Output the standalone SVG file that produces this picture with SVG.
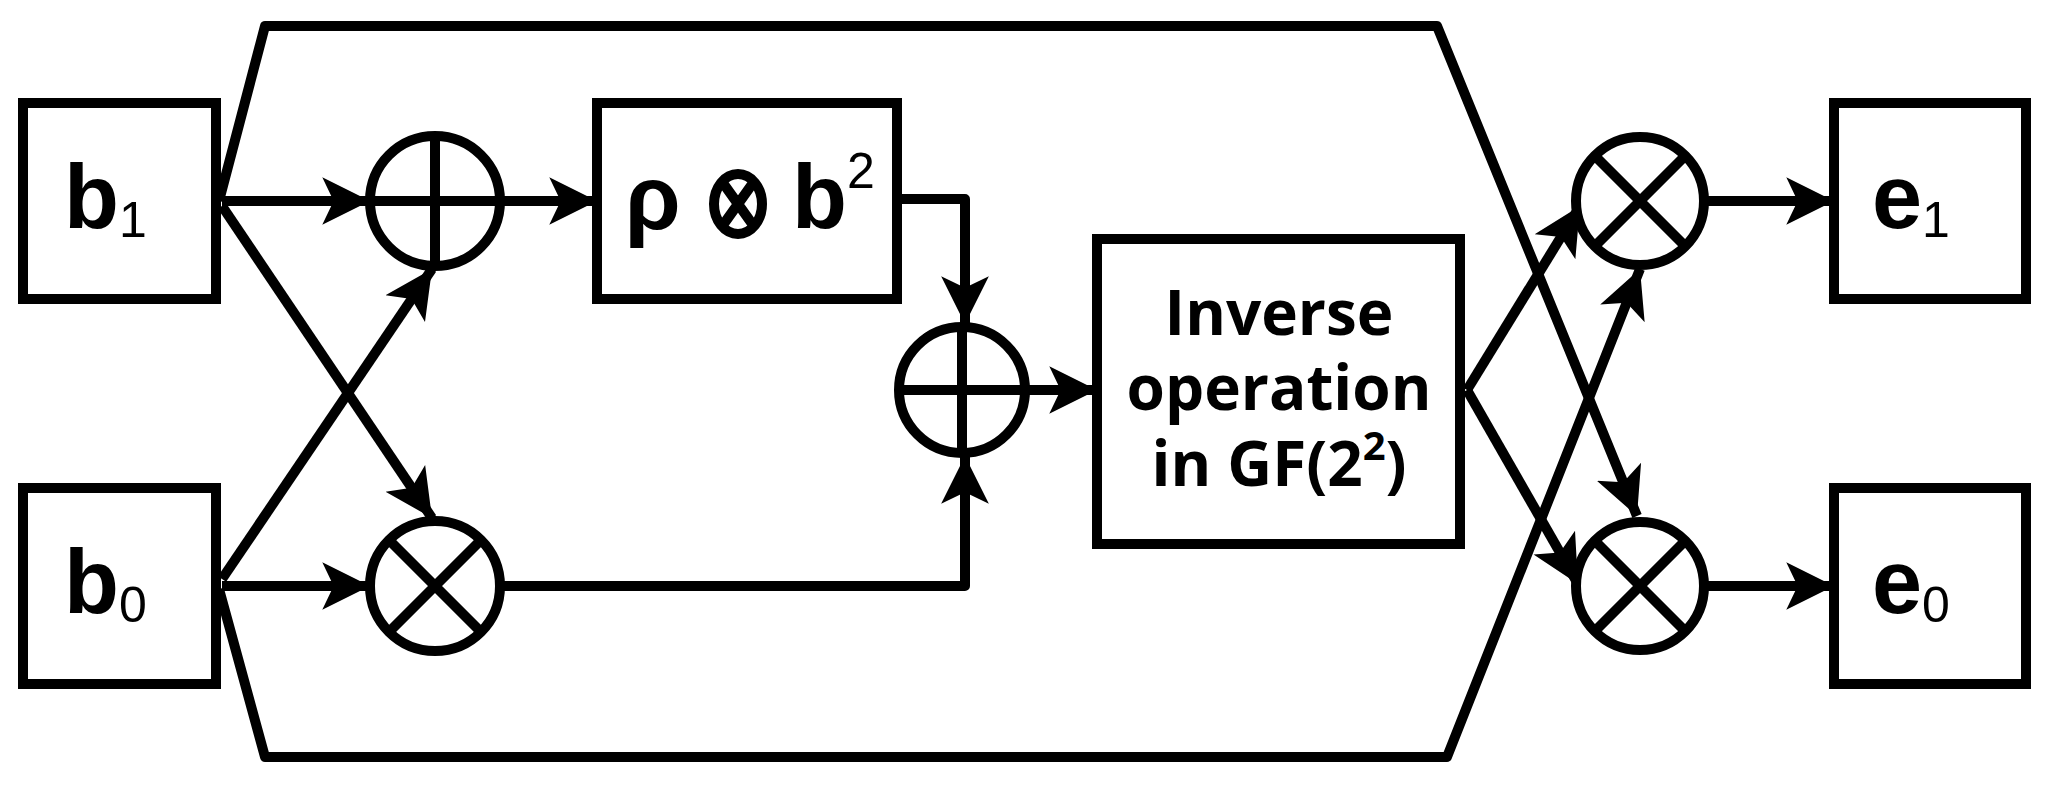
<svg xmlns="http://www.w3.org/2000/svg" width="2051" height="789" viewBox="0 0 2051 789">
<style>
.s{fill:none;stroke:#000;stroke-width:10;stroke-linejoin:round}
.c{fill:#fff;stroke:#000;stroke-width:10}
.t{font-family:"Liberation Sans",Arial,sans-serif;font-weight:bold;fill:#000}
.u{font-size:50px;font-weight:normal}
.o{font-family:"Open Sans","Noto Sans",sans-serif;font-weight:bold;fill:#000;font-size:62px;text-anchor:middle}
</style>
<defs>
<marker id="a" markerUnits="userSpaceOnUse" markerWidth="50" markerHeight="50" refX="42" refY="21" orient="auto" viewBox="0 0 44 42">
<path d="M42,21 L0,0 L10,21 L0,42 z" fill="#000"/>
</marker>
</defs>
<rect width="2051" height="789" fill="#fff"/>
<g id="connectors" class="s">
<polyline points="219,201 265,26 1437,26 1637,516" marker-end="url(#a)"/>
<polyline points="219,589 265,757 1447,757 1640,269" marker-end="url(#a)"/>
<line x1="222" y1="201" x2="370" y2="201" marker-end="url(#a)"/>
<line x1="222" y1="586" x2="370" y2="586" marker-end="url(#a)"/>
<line x1="222" y1="206" x2="432" y2="518" marker-end="url(#a)"/>
<line x1="222" y1="579" x2="432" y2="269" marker-end="url(#a)"/>
<line x1="500" y1="201" x2="597" y2="201" marker-end="url(#a)"/>
<polyline points="897,199 965,199 965,324" marker-end="url(#a)"/>
<polyline points="504,586 965,586 965,456" marker-end="url(#a)"/>
<line x1="1026" y1="390" x2="1097" y2="390" marker-end="url(#a)"/>
<line x1="1467" y1="390" x2="1580" y2="206" marker-end="url(#a)"/>
<line x1="1467" y1="390" x2="1578" y2="584" marker-end="url(#a)"/>
<line x1="1706" y1="201" x2="1834" y2="201" marker-end="url(#a)"/>
<line x1="1706" y1="586" x2="1834" y2="586" marker-end="url(#a)"/>
</g>
<g id="b1"><rect class="c" x="23" y="103" width="193" height="196"/><text class="t" x="64" y="228" font-size="90">b<tspan class="u" dy="9">1</tspan></text></g>
<g id="b0"><rect class="c" x="23" y="488" width="193" height="196"/><text class="t" x="64" y="613" font-size="90">b<tspan class="u" dy="9">0</tspan></text></g>
<g id="xor1"><circle class="c" cx="435" cy="201" r="65"/><path class="s" d="M370,201H500M435,136V266"/></g>
<g id="mul1"><circle class="c" cx="435" cy="586" r="65"/><path class="s" d="M389,540L481,632M481,540L389,632"/></g>
<g id="sq"><rect class="c" x="597" y="103" width="300" height="196"/>
<text class="t" x="625" y="229" font-size="90">ρ</text>
<ellipse class="c" cx="738" cy="204" rx="24" ry="30" stroke-width="8"/><path class="s" stroke-width="8" d="M723,183L753,225M753,183L723,225"/>
<text class="t" x="792" y="228" font-size="90">b<tspan class="u" dy="-40">2</tspan></text></g>
<g id="xor2"><circle class="c" cx="962" cy="390" r="63"/><path class="s" d="M899,390H1025M962,327V453"/></g>
<g id="inv"><rect class="c" x="1097" y="239" width="363" height="305"/>
<text class="o" x="1279" y="335">Inverse</text><text class="o" x="1279" y="410">operation</text><text class="o" x="1279" y="486">in GF(2<tspan font-size="40" dy="-26">2</tspan><tspan dy="26">)</tspan></text></g>
<g id="mul2"><circle class="c" cx="1640" cy="201" r="64"/><path class="s" d="M1595,156L1685,246M1685,156L1595,246"/></g>
<g id="mul3"><circle class="c" cx="1640" cy="586" r="64"/><path class="s" d="M1595,541L1685,631M1685,541L1595,631"/></g>
<g id="e1"><rect class="c" x="1834" y="103" width="192" height="196"/><text class="t" x="1872" y="228" font-size="90">e<tspan class="u" dy="9">1</tspan></text></g>
<g id="e0"><rect class="c" x="1834" y="488" width="192" height="196"/><text class="t" x="1872" y="613" font-size="90">e<tspan class="u" dy="9">0</tspan></text></g>
</svg>
